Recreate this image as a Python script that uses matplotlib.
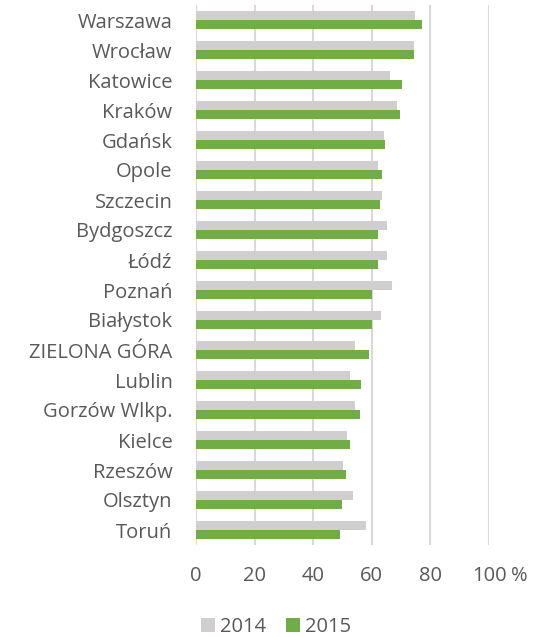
import numpy as np
import matplotlib
matplotlib.use("Agg")
from matplotlib import pyplot as plt

cities = ["Warszawa", "Wrocław", "Katowice", "Kraków", "Gdańsk", "Opole",
          "Szczecin", "Bydgoszcz", "Łódź", "Poznań", "Białystok",
          "ZIELONA GÓRA", "Lublin", "Gorzów Wlkp.", "Kielce", "Rzeszów",
          "Olsztyn", "Toruń"]
values_2014 = [74.7, 74.3, 66.3, 68.5, 64.1, 62.2, 63.5, 65.3, 65.2, 67.0,
               63.0, 54.4, 52.7, 54.4, 51.7, 50.1, 53.5, 58.1]
values_2015 = [77.3, 74.5, 70.2, 69.5, 64.5, 63.5, 62.7, 62.0, 62.0, 60.2,
               59.9, 59.0, 56.3, 55.9, 52.6, 51.1, 49.7, 49.2]
ticks = [0, 20, 40, 60, 80, 100]
tick_labels = ["0", "20", "40", "60", "80", "100"]

plt.rcParams['font.family'] = ['Open Sans', 'DejaVu Sans']
fs = 14.5
text_color = "#595959"

fig = plt.figure(figsize=(5.53, 6.37), dpi=100)
ax = fig.add_axes([196 / 553, 1 - 545 / 637, (489 - 196) / 553, 540 / 637])

y = np.arange(len(cities))
h = 0.30
ax.barh(y - h / 2 - 0.015, values_2014, height=h, color="#D0CECE", label="2014", zorder=3)
ax.barh(y + h / 2 + 0.015, values_2015, height=h, color="#70AD47", label="2015", zorder=3)

ax.set_ylim(len(cities) - 0.5, -0.5)
ax.set_xlim(0, 100)
ax.set_yticks(y)
ax.set_yticklabels(cities, fontsize=fs, color=text_color)
ax.set_xticks(ticks)
ax.set_xticklabels(tick_labels, fontsize=fs, color=text_color)
ax.tick_params(axis="both", length=0)
ax.tick_params(axis="y", pad=17)
ax.tick_params(axis="x", pad=15)
ax.grid(axis="x", color="#D9D9D9", linewidth=1.5, zorder=0)
for s in ax.spines.values():
    s.set_visible(False)

# unit shown next to the last tick
ax.annotate("%", xy=(1, 0), xycoords="axes fraction", xytext=(16, -15),
            textcoords="offset points", ha="left", va="top",
            fontsize=fs, color=text_color)

ax.legend(loc="center", bbox_to_anchor=(276 / 553, 10 / 637), bbox_transform=fig.transFigure,
          ncol=2, frameon=False, fontsize=fs, handlelength=0.7, handleheight=0.7,
          handletextpad=0.25, columnspacing=0.95, borderpad=0, labelcolor=text_color)

fig.savefig("out.png", dpi=100)
